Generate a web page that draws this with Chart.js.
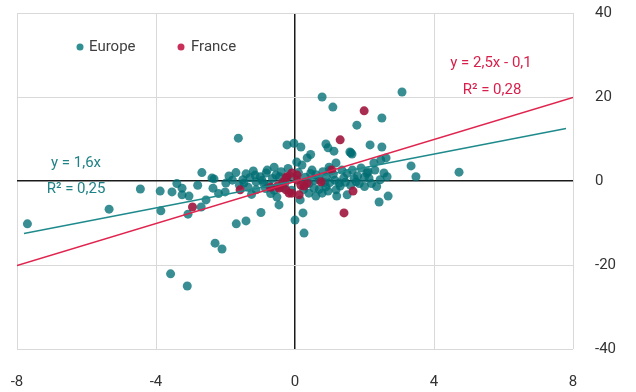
<!DOCTYPE html>
<html>
<head>
<meta charset="utf-8">
<script src="https://cdn.jsdelivr.net/npm/chart.js@4"></script>
<style>
  html, body { margin: 0; padding: 0; background: #fff; }
  #wrap { width: 636px; height: 392px; }
</style>
</head>
<body>
<div id="wrap"><canvas id="chart" width="636" height="392"></canvas></div>
<script>
// nuage Europe (x, y)
const europePoints = [
  [-7.7, -10.2], [-5.35, -6.7], [-4.45, -1.9], [-3.88, -2.4], [-3.86, -7.1], [-3.54, -2.6],
  [-3.25, -1.7], [-3.25, -3.3], [-3.05, -3.6], [-3.08, -7.9], [-2.56, -4.5], [-2.7, -6.2],
  [-2.68, 2.0], [-2.39, 0.7], [-2.36, -1.7], [-2.33, 0.5], [-2.3, -14.8], [-2.1, -16.2],
  [-3.58, -22.1], [-3.1, -25.0], [-1.99, -0.5], [-2.01, -2.6], [-1.63, 10.2], [-1.69, -10.2],
  [-1.41, -9.5], [-1.41, 1.7], [-1.47, -0.5], [-1.12, -0.2], [-1.12, -2.1], [-0.98, -7.5],
  [-0.83, 1.9], [-0.8, 2.6], [-0.6, 3.3], [-0.55, 1.4], [-0.75, -1.0], [-0.52, -3.8],
  [-0.46, -5.7], [-0.23, 8.6], [-0.03, 9.0], [0.17, 8.1], [0.35, 5.5], [0.0, -9.3],
  [0.23, -7.6], [0.26, -12.4], [3.08, 21.2], [0.78, 20.0], [1.09, 17.6], [2.5, 15.0],
  [1.78, 13.3], [0.89, 8.8], [0.95, 7.9], [1.12, 7.1], [2.16, 8.6], [2.5, 8.1],
  [1.58, 6.9], [1.64, 6.4], [2.62, 5.5], [2.47, 5.0], [3.34, 3.6], [3.48, 1.0],
  [4.72, 2.1], [2.65, 1.0], [2.56, 1.9], [0.2, 3.8], [0.49, 2.6], [0.98, 3.3],
  [1.18, 4.3], [1.35, 2.6], [1.61, 6.7], [1.9, 3.1], [2.07, 1.9], [2.27, 4.3],
  [0.55, -1.7], [0.89, -1.4], [1.27, -0.5], [1.76, -0.2], [2.13, 0.7], [0.4, -2.9],
  [0.78, -2.9], [1.18, -2.1], [2.42, -5.0], [2.68, -3.6], [1.5, -3.3], [-1.8, 0.2],
  [-1.6, -1.0], [-1.3, 0.8], [-1.0, 1.0], [-0.9, -0.6], [-0.4, 2.2], [-0.3, -0.8],
  [-0.2, 3.0], [0.1, 2.0], [0.3, 0.9], [0.4, -0.6], [0.6, 1.5], [0.7, 0.3],
  [0.9, 0.9], [1.0, -0.4], [1.1, 1.6], [1.4, 0.7], [1.5, 1.8], [1.6, -1.0],
  [1.8, 1.2], [2.0, -1.3], [2.2, -0.6], [2.3, 2.6], [1.2, -3.6], [0.6, -3.6],
  [-0.1, -2.2], [0.15, -4.5], [-0.7, -3.0], [-1.25, -3.2], [-2.2, -3.0], [-2.8, -1.0],
  [-3.4, -0.6], [0.05, 4.5], [0.45, 6.3], [-1.2, 2.4], [-0.15, 1.2], [0.8, 2.2],
  [-1.9, 1.2], [-1.7, 2.0], [-1.5, 0.3], [-1.35, -1.5], [-1.15, 1.4], [-0.95, 0.2],
  [-0.85, -1.8], [-0.65, 0.6], [-0.6, -2.2], [-0.45, 1.0], [-0.35, -1.6], [0.25, -2.0],
  [0.45, 1.8], [0.55, 0.2], [0.7, -2.0], [0.85, -0.4], [1.0, 2.6], [1.15, 0.2],
  [1.3, -1.2], [1.45, -0.3], [1.7, 0.6], [1.85, -0.6], [2.0, 0.9], [2.1, 2.2],
  [2.35, -1.3], [2.45, 0.3], [0.95, -2.4], [1.65, 2.6]
];

// nuage France (x, y)
const francePoints = [
  [-2.95, -6.2], [-1.58, -2.1], [-0.46, -1.7], [-0.23, 1.0], [0.06, 1.4], [-0.17, -2.9],
  [0.12, -3.3], [0.26, -1.2], [-0.09, 1.9], [0.06, 0.2], [0.17, -1.0], [-0.09, -2.9],
  [0.75, -0.2], [1.67, -2.4], [1.41, -7.6], [1.99, 16.7], [1.3, 9.8], [1.06, 2.6],
  [-0.26, 0.7], [-0.5, -1.2], [-0.7, -1.5], [-0.35, -0.3], [0.35, -0.5], [-0.26, -2.1]
];

// droites de tendance : pente, ordonnée à l'origine, étendue en x
const europeTrend = [1.6, 0];
const franceTrend = [2.5, -0.1];
const europeTrendX = [-7.8, 7.8];
const franceTrendX = [-8, 8];

const xTicks = [-8, -4, 0, 4, 8];
const yTicks = [-40, -20, 0, 20, 40];

const teal = 'rgba(0, 110, 115, 0.78)';
const crimson = 'rgba(160, 22, 62, 0.9)';
const tealLine = '#1f8a8c';
const redLine = '#e0244e';
const font = 'Roboto';

function toXY(arr) {
  return arr.map(p => ({ x: p[0], y: p[1] }));
}

function trendLine(coef, xs) {
  return xs.map(x => ({ x: x, y: coef[0] * x + coef[1] }));
}

// légende et équations dessinées dans la zone du graphique
const labelsPlugin = {
  id: 'labels',
  afterDraw(chart) {
    const c = chart.ctx;
    c.save();
    c.font = '15px ' + font;
    c.textBaseline = 'middle';

    c.fillStyle = '#2f8f93';
    c.beginPath(); c.arc(80, 47, 3.5, 0, Math.PI * 2); c.fill();
    c.fillStyle = '#404040';
    c.textAlign = 'left';
    c.fillText('Europe', 89, 47);
    c.fillStyle = '#c8305a';
    c.beginPath(); c.arc(181, 47, 3.5, 0, Math.PI * 2); c.fill();
    c.fillStyle = '#404040';
    c.fillText('France', 191, 47);

    c.textAlign = 'center';
    c.fillStyle = '#d81f4a';
    c.fillText('y = 2,5x - 0,1', 491, 63);
    c.fillText('R² = 0,28', 492, 90);
    c.fillStyle = '#1f8287';
    c.fillText('y = 1,6x', 76, 163);
    c.fillText('R² = 0,25', 76, 189);
    c.restore();
  }
};

const gridColor = ctx => (ctx.tick && ctx.tick.value === 0) ? '#1a1a1a' : '#d9d9d9';
const gridWidth = ctx => (ctx.tick && ctx.tick.value === 0) ? 1.5 : 1;

new Chart(document.getElementById('chart'), {
  type: 'scatter',
  data: {
    datasets: [
      {
        label: 'Europe',
        data: toXY(europePoints),
        backgroundColor: teal,
        borderWidth: 0,
        pointRadius: 4.5,
        order: 3
      },
      {
        label: 'France',
        data: toXY(francePoints),
        backgroundColor: crimson,
        borderWidth: 0,
        pointRadius: 4.5,
        order: 2
      },
      {
        type: 'line',
        label: 'Tendance Europe',
        data: trendLine(europeTrend, europeTrendX),
        borderColor: tealLine,
        borderWidth: 1.5,
        pointRadius: 0,
        fill: false,
        order: 1
      },
      {
        type: 'line',
        label: 'Tendance France',
        data: trendLine(franceTrend, franceTrendX),
        borderColor: redLine,
        borderWidth: 1.5,
        pointRadius: 0,
        fill: false,
        order: 0
      }
    ]
  },
  options: {
    responsive: false,
    animation: false,
    layout: { padding: { left: 17, top: 13, right: 0, bottom: 0 } },
    plugins: {
      legend: { display: false },
      tooltip: { enabled: false }
    },
    scales: {
      x: {
        type: 'linear',
        min: -8,
        max: 8,
        afterBuildTicks: axis => { axis.ticks = xTicks.map(v => ({ value: v })); },
        afterFit: axis => {
          axis.height = 43;
          axis.paddingLeft = 0;
          axis.paddingRight = 0;
        },
        grid: { color: gridColor, lineWidth: gridWidth, drawTicks: false },
        border: { display: false },
        ticks: { padding: 24, color: '#333333', font: { family: font, size: 15 } }
      },
      y: {
        position: 'right',
        min: -40,
        max: 40,
        afterBuildTicks: axis => { axis.ticks = yTicks.map(v => ({ value: v })); },
        afterFit: axis => {
          axis.width = 63;
          axis.paddingTop = 0;
          axis.paddingBottom = 0;
        },
        grid: { color: gridColor, lineWidth: gridWidth, drawTicks: false },
        border: { display: false },
        ticks: { padding: 22, color: '#333333', font: { family: font, size: 15 } }
      }
    }
  },
  plugins: [labelsPlugin]
});
</script>
</body>
</html>
